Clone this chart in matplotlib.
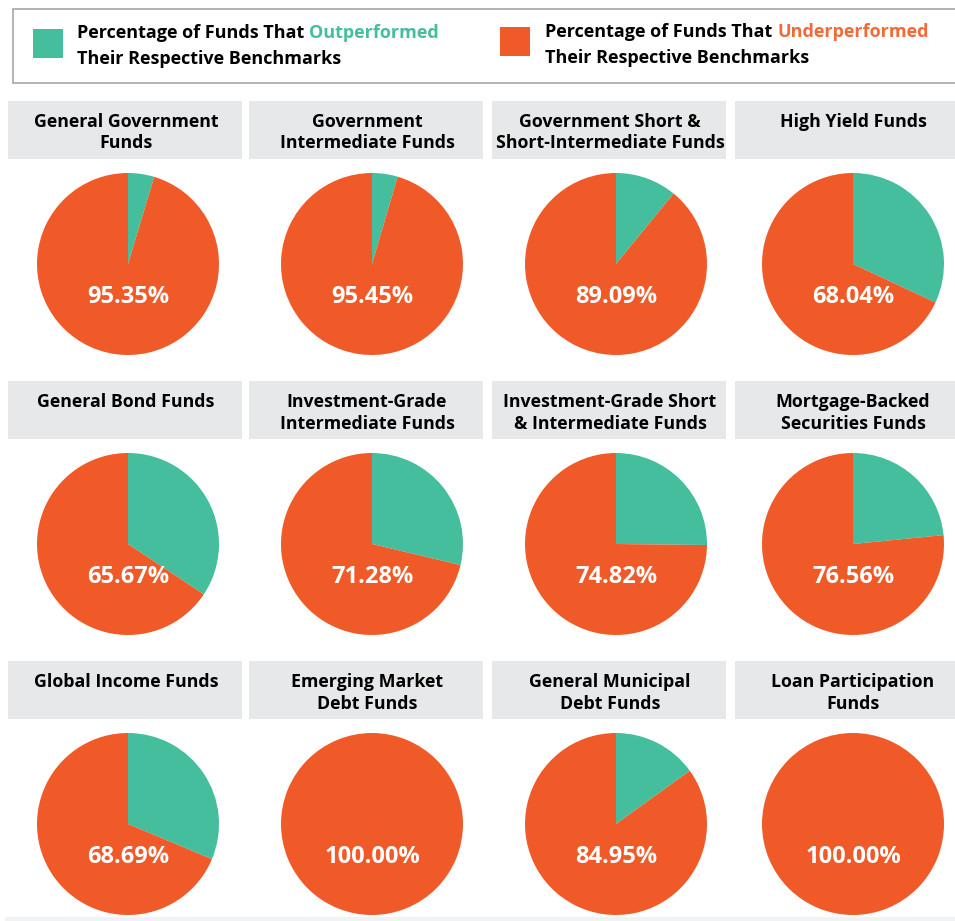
import matplotlib.pyplot as plt
from matplotlib.patches import Rectangle

# chart data
titles = [
    "General Government\nFunds",
    "Government\nIntermediate Funds",
    "Government Short &\nShort-Intermediate Funds",
    "High Yield Funds",
    "General Bond Funds",
    "Investment-Grade\nIntermediate Funds",
    "Investment-Grade Short\n& Intermediate Funds",
    "Mortgage-Backed\nSecurities Funds",
    "Global Income Funds",
    "Emerging Market\nDebt Funds",
    "General Municipal\nDebt Funds",
    "Loan Participation\nFunds",
]
underperformed = [95.35, 95.45, 89.09, 68.04, 65.67, 71.28, 74.82, 76.56,
                  68.69, 100.00, 84.95, 100.00]
outperformed = [round(100 - u, 2) for u in underperformed]

GREEN = "#45be9e"
ORANGE = "#f05a28"
ORANGE_TXT = "#f2693a"
BOX = "#e6e8ea"
FONT = "Open Sans"

W, H = 955, 921
fig = plt.figure(figsize=(W / 100, H / 100), dpi=100)

# background axes in pixel coordinates
bg = fig.add_axes([0, 0, 1, 1])
bg.set_xlim(0, W)
bg.set_ylim(H, 0)
bg.axis("off")

# legend
bg.add_patch(Rectangle((13, 9), 960, 74, facecolor="white", edgecolor="#a6a6a6", lw=1.2))
bg.add_patch(Rectangle((33, 29), 30, 29, facecolor=GREEN, edgecolor="none"))
bg.add_patch(Rectangle((500, 27), 30, 29, facecolor=ORANGE, edgecolor="none"))

renderer = fig.canvas.get_renderer()
leg_kw = dict(fontsize=13, fontweight="bold", family=FONT, va="center", ha="left")
for x0, y0, word, col in [(77, 33, "Outperformed", GREEN),
                          (545, 32, "Underperformed", ORANGE_TXT)]:
    t = bg.text(x0, y0, "Percentage of Funds That", color="black", **leg_kw)
    bb = t.get_window_extent(renderer)
    bg.text(x0 + bb.width + 5, y0, word, color=col, **leg_kw)
    bg.text(x0, y0 + 26, "Their Respective Benchmarks", color="black", **leg_kw)

# panels
box_left = [8, 249, 492, 735]
pie_cx = [128, 372, 616, 853]
box_top = [101, 381, 661]
pie_cy = [264, 544, 824]
R = 91

for i, title in enumerate(titles):
    r, c = divmod(i, 4)
    bg.add_patch(Rectangle((box_left[c], box_top[r]), 234, 58,
                           facecolor=BOX, edgecolor="none"))
    bg.text(box_left[c] + 118, box_top[r] + 12, title, ha="center", va="top",
            fontsize=12.8, fontweight="bold", family=FONT, linespacing=1.25)

    ax = fig.add_axes([(pie_cx[c] - R) / W, 1 - (pie_cy[r] + R) / H,
                       2 * R / W, 2 * R / H])
    ax.pie([outperformed[i], underperformed[i]], colors=[GREEN, ORANGE],
           startangle=90, counterclock=False,
           wedgeprops=dict(linewidth=0))
    ax.set_xlim(-1, 1)
    ax.set_ylim(-1, 1)
    ax.text(0, -0.36, f"{underperformed[i]:.2f}%", ha="center", va="center",
            color="white", fontsize=17, fontweight="bold", family=FONT)

# bottom strip
bg.add_patch(Rectangle((5, 917), 950, 6, facecolor="#f1f2f3", edgecolor="none"))

fig.savefig("out.png", dpi=100)
